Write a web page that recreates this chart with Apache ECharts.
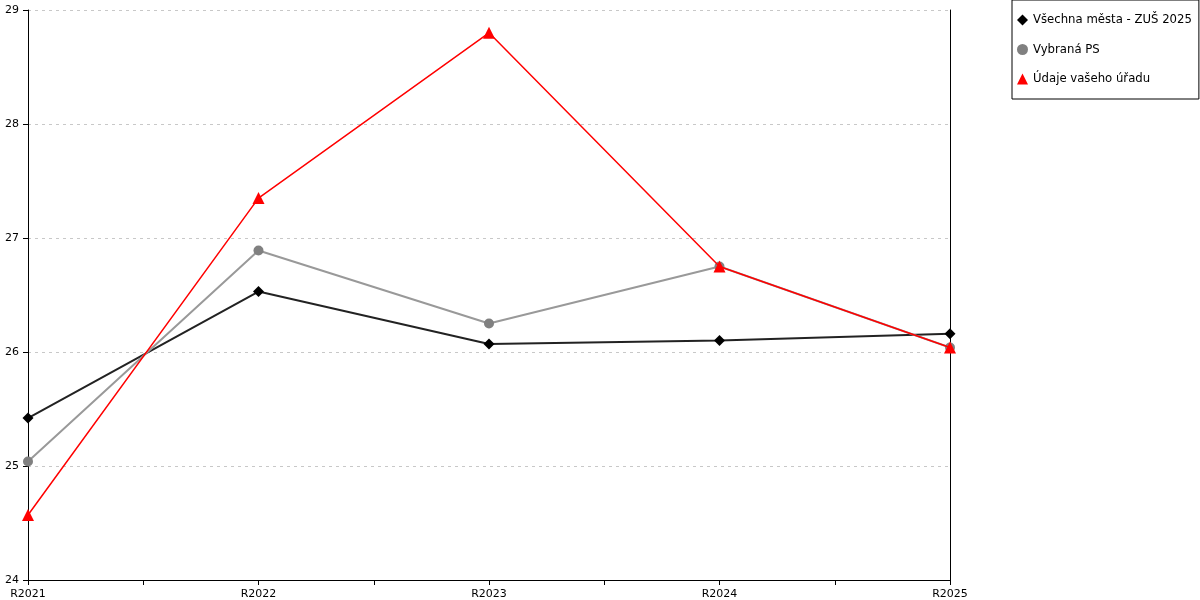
<!DOCTYPE html>
<html><head><meta charset="utf-8">
<script src="https://cdn.jsdelivr.net/npm/echarts@6/dist/echarts.min.js"></script>
<style>html,body{margin:0;padding:0;background:#fff}#c{width:1200px;height:600px}</style>
</head><body><div id="c"></div>
<script>
const categories = ['R2021','R2022','R2023','R2024','R2025'];
const allCities = [25.42, 26.53, 26.07, 26.10, 26.16];
const selectedPS = [25.04, 26.89, 26.25, 26.75, 26.04];
const yourOffice = [24.57, 27.35, 28.80, 26.75, 26.04];
const seriesNames = ['Všechna města - ZUŠ 2025', 'Vybraná PS', 'Údaje vašeho úřadu'];

const font = 'DejaVu Sans';
const chart = echarts.init(document.getElementById('c'));
chart.setOption({
  animation: false,
  textStyle: {fontFamily: font},
  grid: {left: 28, right: 250, top: 10, bottom: 20, containLabel: false},
  legend: {
    orient: 'vertical', left: 1012, top: 0,
    padding: [14, 7, 14, 5],
    itemGap: 17.5, itemWidth: 11, itemHeight: 11,
    borderColor: '#000', borderWidth: 1, borderRadius: 0,
    textStyle: {fontFamily: font, fontSize: 11.7, color: '#000', padding: [0,0,0,0]},
    data: [
      {name: seriesNames[0], icon: 'diamond', itemStyle: {color: '#000'}},
      {name: seriesNames[1], icon: 'circle', itemStyle: {color: '#808080'}},
      {name: seriesNames[2], icon: 'triangle', itemStyle: {color: '#ff0000'}}
    ]
  },
  xAxis: [
    {
      type: 'category', data: categories, boundaryGap: false,
      axisLine: {lineStyle: {color: '#000', width: 1}},
      axisTick: {show: true, length: 5, lineStyle: {color: '#000'}},
      axisLabel: {color: '#000', fontSize: 11, fontFamily: font, margin: 9},
      splitLine: {show: false}
    },
    {
      type: 'value', min: 0, max: 4, interval: 0.5, position: 'bottom',
      axisLine: {show: false},
      axisTick: {show: true, length: 5, lineStyle: {color: '#000'}},
      axisLabel: {show: false},
      splitLine: {show: false}
    }
  ],
  yAxis: [
    {
      type: 'value', min: 24, max: 29, interval: 1,
      axisLine: {show: true, lineStyle: {color: '#000', width: 1}},
      axisTick: {show: true, length: 5, lineStyle: {color: '#000'}},
      axisLabel: {color: '#000', fontSize: 11, fontFamily: font, margin: 9},
      splitLine: {show: true, lineStyle: {color: '#c8c8c8', type: [3, 4], width: 1}}
    },
    {
      type: 'value', min: 24, max: 29, interval: 1, position: 'right',
      axisLine: {show: true, lineStyle: {color: '#000', width: 1}},
      axisTick: {show: false}, axisLabel: {show: false}, splitLine: {show: false}
    }
  ],
  series: [
    {
      name: seriesNames[0], type: 'line', data: allCities,
      symbol: 'diamond', symbolSize: 11,
      itemStyle: {color: '#000'}, lineStyle: {color: '#222', width: 2},
      z: 3
    },
    {
      name: seriesNames[1], type: 'line', data: selectedPS,
      symbol: 'circle', symbolSize: 10,
      itemStyle: {color: '#808080'}, lineStyle: {color: '#999', width: 2},
      z: 4
    },
    {
      name: seriesNames[2], type: 'line', data: yourOffice,
      symbol: 'triangle', symbolSize: 12,
      itemStyle: {color: '#ff0000'}, lineStyle: {color: '#ff0000', width: 1.5},
      z: 5
    }
  ]
});
</script></body></html>
